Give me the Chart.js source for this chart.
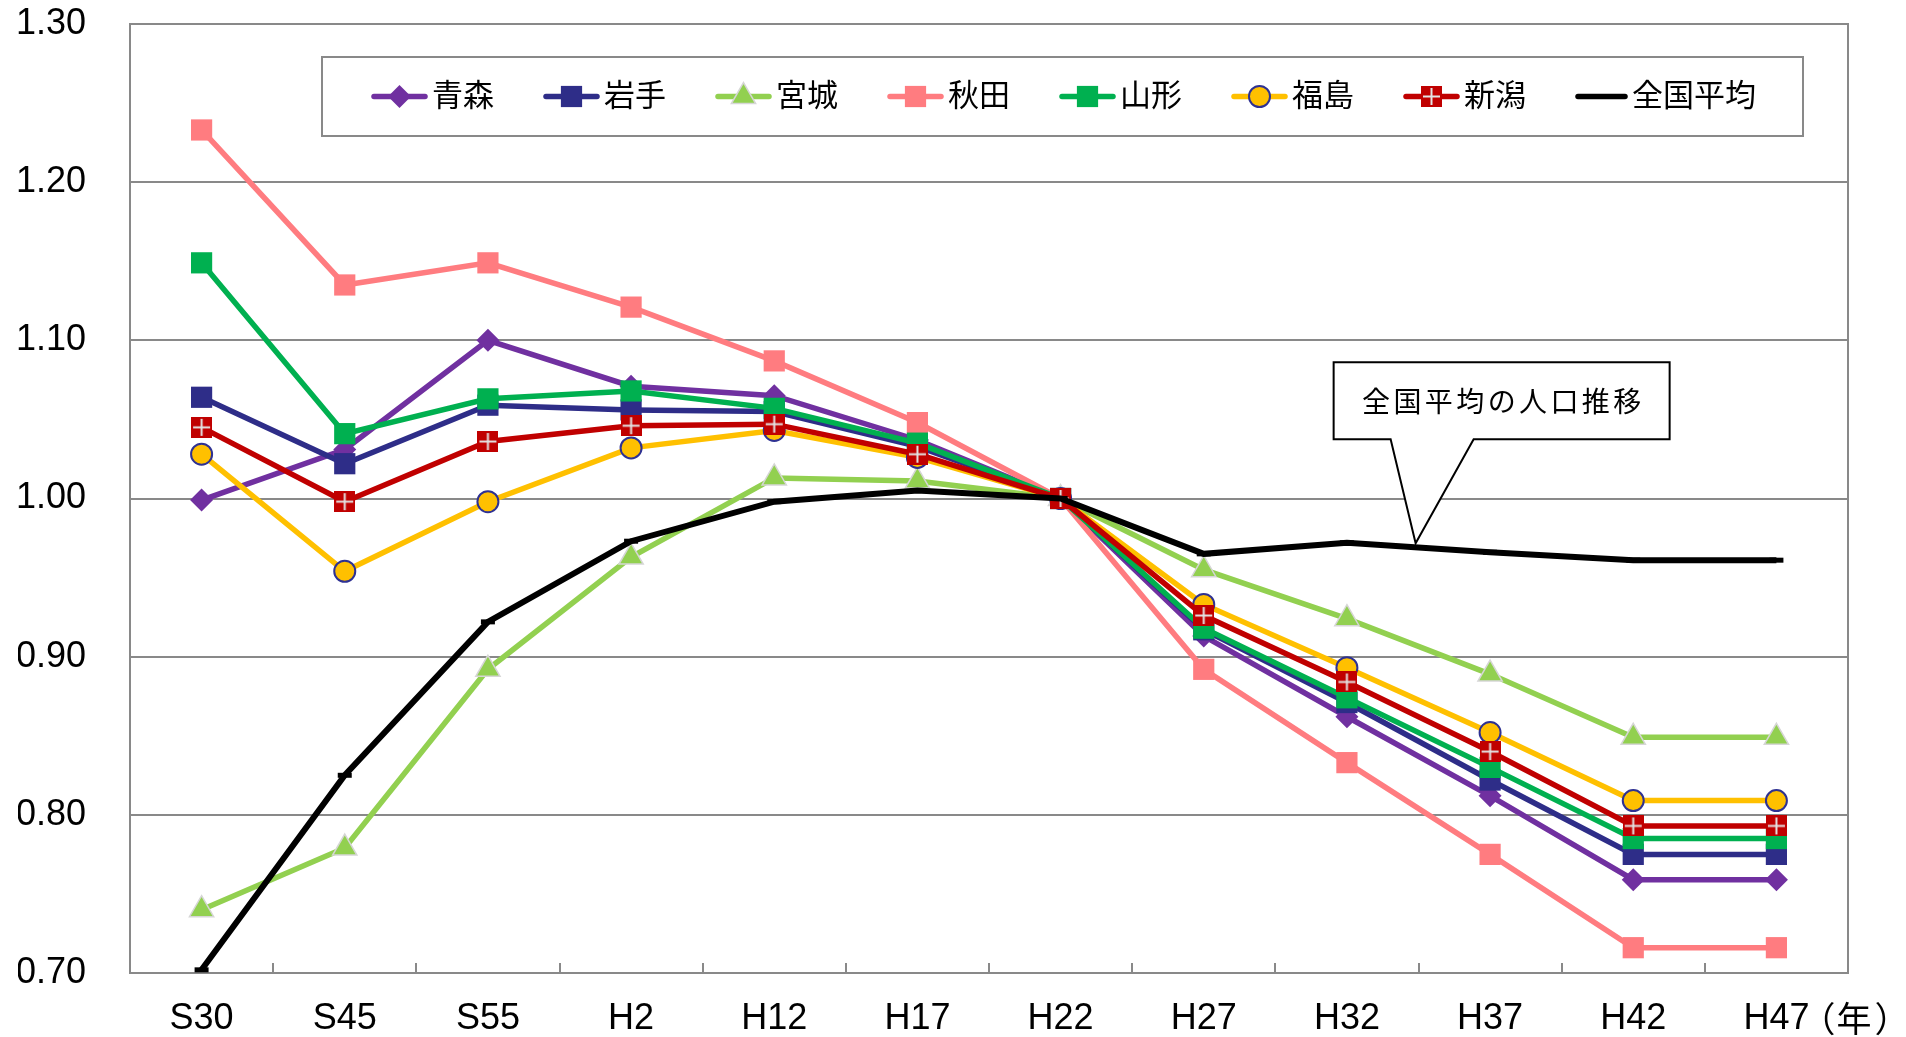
<!DOCTYPE html>
<html lang="ja">
<head>
<meta charset="utf-8">
<title>人口推移</title>
<script src="https://cdn.jsdelivr.net/npm/chart.js@4.4.1/dist/chart.umd.min.js"></script>
<style>
html,body{margin:0;padding:0;background:#fff;overflow:hidden;}
#wrap{width:1906px;height:1037px;}
canvas{display:block;}
</style>
</head>
<body>
<div id="wrap"><canvas id="c" width="1906" height="1037"></canvas></div>
<script>
// 年次（カテゴリ）
const categories = ['S30','S45','S55','H2','H12','H17','H22','H27','H32','H37','H42','H47'];

// H22 を 1.00 とした人口指数
const aomori    = [0.999,1.031,1.100,1.071,1.065,1.037,1.000,0.913,0.862,0.812,0.759,0.759];
const iwate     = [1.064,1.022,1.059,1.056,1.055,1.033,1.000,0.917,0.871,0.822,0.775,0.775];
const miyagi    = [0.740,0.779,0.892,0.963,1.013,1.011,1.000,0.955,0.924,0.889,0.849,0.849];
const akita     = [1.233,1.135,1.149,1.121,1.087,1.048,1.000,0.892,0.833,0.775,0.716,0.716];
const yamagata  = [1.149,1.041,1.063,1.068,1.057,1.035,1.000,0.918,0.874,0.830,0.785,0.785];
const fukushima = [1.028,0.954,0.998,1.032,1.043,1.026,1.000,0.933,0.893,0.852,0.809,0.809];
const niigata   = [1.045,0.998,1.036,1.046,1.047,1.028,1.000,0.926,0.884,0.840,0.793,0.793];
const national  = [0.702,0.825,0.922,0.973,0.998,1.005,1.000,0.965,0.972,0.966,0.961,0.961];

// 凡例名とY軸目盛
const seriesNames = ['青森','岩手','宮城','秋田','山形','福島','新潟','全国平均'];
const yTicks = [0.70,0.80,0.90,1.00,1.10,1.20,1.30];
const calloutText = '全国平均の人口推移';
const yearUnit = ['（','年','）'];

const seriesValues = [aomori, iwate, miyagi, akita, yamagata, fukushima, niigata, national];

const NUM_FONT = "'Liberation Sans', Arial, sans-serif";
const JP_FONT = "'Noto Sans CJK JP', 'Noto Sans CJK SC', sans-serif";
const GRID = '#898989';

// 新潟のマーカー（赤い四角に十字）
function makeCrossSquare(size){
  const cv = document.createElement('canvas');
  cv.width = size; cv.height = size;
  const g = cv.getContext('2d');
  g.fillStyle = '#C00000';
  g.fillRect(0, 0, size, size);
  g.strokeStyle = '#e4e4e4';
  g.lineWidth = 2;
  g.beginPath();
  g.moveTo(size/2, 2); g.lineTo(size/2, size-2);
  g.moveTo(2, size/2); g.lineTo(size-2, size/2);
  g.stroke();
  return cv;
}
const crossSquare = makeCrossSquare(21);

const styles = [
  {color:'#7030A0', pointStyle:'rectRot', radius:11.5, fill:'#7030A0', border:'#7030A0', bw:0},
  {color:'#2E2D88', pointStyle:'rect', radius:15, fill:'#2E2D88', border:'#2E2D88', bw:0},
  {color:'#92D050', pointStyle:'triangle', radius:14, fill:'#92D050', border:'#d6d6d6', bw:1.5},
  {color:'#FF7C80', pointStyle:'rect', radius:15, fill:'#FF7C80', border:'#FF7C80', bw:0},
  {color:'#00B050', pointStyle:'rect', radius:15, fill:'#00B050', border:'#00B050', bw:0},
  {color:'#FFC000', pointStyle:'circle', radius:10.5, fill:'#FFC000', border:'#2E3192', bw:2},
  {color:'#C00000', pointStyle:crossSquare, radius:10.5, fill:'#C00000', border:'#C00000', bw:0},
  {color:'#000000', pointStyle:'line', radius:7, fill:'#000000', border:'#000000', bw:5}
];

const datasets = seriesNames.map((name, i) => ({
  label: name,
  data: seriesValues[i],
  borderColor: styles[i].color,
  backgroundColor: styles[i].fill,
  borderWidth: i === 7 ? 6 : 5.5,
  tension: 0,
  pointStyle: styles[i].pointStyle,
  pointRadius: styles[i].radius,
  pointHoverRadius: styles[i].radius,
  pointBackgroundColor: styles[i].fill,
  pointBorderColor: styles[i].border,
  pointBorderWidth: styles[i].bw,
  order: seriesNames.length - i,
  clip: false
}));

const framePlugin = {
  id: 'frame',
  beforeDatasetsDraw(chart){
    const {ctx, chartArea: ca, scales} = chart;
    const x = scales.x;
    ctx.save();
    ctx.strokeStyle = GRID;
    ctx.lineWidth = 2;
    // 右枠
    ctx.beginPath();
    ctx.moveTo(ca.right, ca.top - 1);
    ctx.lineTo(ca.right, ca.bottom + 1);
    ctx.stroke();
    // X軸の内向き目盛（カテゴリ境界）
    ctx.beginPath();
    for (let i = 0; i < categories.length - 1; i++){
      const px = Math.round((x.getPixelForValue(i) + x.getPixelForValue(i+1)) / 2);
      ctx.moveTo(px, ca.bottom);
      ctx.lineTo(px, ca.bottom - 10);
    }
    ctx.stroke();
    ctx.restore();
  },
  afterDraw(chart){
    const {ctx, chartArea: ca, scales} = chart;
    const helpers = Chart.helpers;
    ctx.save();

    // 凡例枠
    const lg = {left: ca.left + 192, top: ca.top + 33, right: ca.left + 1673, bottom: ca.top + 112};
    ctx.fillStyle = '#ffffff';
    ctx.fillRect(lg.left, lg.top, lg.right - lg.left, lg.bottom - lg.top);
    ctx.strokeStyle = GRID;
    ctx.lineWidth = 2;
    ctx.strokeRect(lg.left, lg.top, lg.right - lg.left, lg.bottom - lg.top);

    const ly = lg.top + 39.5;
    seriesNames.forEach((name, i) => {
      const s = styles[i];
      const x0 = lg.left + 50 + 172 * i;
      const len = i === 7 ? 51 : 55;
      ctx.strokeStyle = s.color;
      ctx.lineWidth = 5.5;
      ctx.lineCap = 'round';
      ctx.beginPath();
      ctx.moveTo(x0 + 2, ly);
      ctx.lineTo(x0 + len - 2, ly);
      ctx.stroke();
      ctx.lineCap = 'butt';
      if (i !== 7){
        ctx.fillStyle = s.fill;
        ctx.strokeStyle = s.border;
        ctx.lineWidth = s.bw;
        helpers.drawPoint(ctx, {pointStyle: s.pointStyle, radius: s.radius, rotation: 0, borderWidth: s.bw}, x0 + len/2, ly);
      }
      ctx.fillStyle = '#000';
      ctx.font = '31px ' + JP_FONT;
      ctx.textBaseline = 'middle';
      ctx.textAlign = 'left';
      ctx.fillText(name, x0 + len + 5, ly - 2);
    });

    // 吹き出し（全国平均の線上を指す）
    const pts = chart.getDatasetMeta(7).data;
    const a = pts[8], b = pts[9];
    const t = 0.48;
    const tipX = a.x + (b.x - a.x) * t;
    const tipY = a.y + (b.y - a.y) * t - 4;
    const bl = tipX - 82, br = tipX + 254, bt = tipY - 181, bb = tipY - 104;
    ctx.beginPath();
    ctx.moveTo(bl, bt);
    ctx.lineTo(br, bt);
    ctx.lineTo(br, bb);
    ctx.lineTo(tipX + 58, bb);
    ctx.lineTo(tipX, tipY);
    ctx.lineTo(tipX - 25, bb);
    ctx.lineTo(bl, bb);
    ctx.closePath();
    ctx.fillStyle = '#fff';
    ctx.fill();
    ctx.strokeStyle = '#000';
    ctx.lineWidth = 2;
    ctx.lineJoin = 'miter';
    ctx.stroke();
    ctx.fillStyle = '#000';
    ctx.font = '28px ' + JP_FONT;
    ctx.textAlign = 'center';
    ctx.textBaseline = 'middle';
    const chars = Array.from(calloutText);
    const pitch = 31.4;
    const cx = (bl + br) / 2, cy = (bt + bb) / 2 + 1;
    chars.forEach((ch, k) => {
      ctx.fillText(ch, cx + (k - (chars.length - 1) / 2) * pitch, cy);
    });

    // 単位（年）：各文字の字面の左端をそろえて配置
    const xs = scales.x;
    const lastX = xs.getPixelForValue(categories.length - 1);
    ctx.font = '35px ' + JP_FONT;
    ctx.textAlign = 'left';
    ctx.textBaseline = 'middle';
    const uy = ca.bottom + 46;
    const inkLeft = [lastX + 48, lastX + 61, lastX + 99];
    yearUnit.forEach((ch, k) => {
      const m = ctx.measureText(ch);
      ctx.fillText(ch, inkLeft[k] + (m.actualBoundingBoxLeft || 0), uy);
    });

    ctx.restore();
  }
};

new Chart(document.getElementById('c'), {
  type: 'line',
  data: { labels: categories, datasets },
  options: {
    responsive: false,
    animation: false,
    devicePixelRatio: 1,
    layout: { padding: { left: 18, right: 58, top: 24, bottom: 0 } },
    plugins: {
      legend: { display: false },
      title: { display: false },
      tooltip: { enabled: false }
    },
    scales: {
      x: {
        type: 'category',
        offset: true,
        grid: { display: false, drawTicks: false },
        border: { display: true, color: GRID, width: 2 },
        ticks: {
          color: '#000',
          font: { family: NUM_FONT, size: 36, lineHeight: 1 },
          padding: 28,
          maxRotation: 0,
          autoSkip: false
        },
        afterFit(scale){
          scale.height = 64;
          scale.paddingLeft = 0;
          scale.paddingRight = 0;
        }
      },
      y: {
        min: 0.7,
        max: 1.3,
        afterBuildTicks(scale){ scale.ticks = yTicks.map(v => ({value: v})); },
        grid: { color: GRID, lineWidth: 2, drawTicks: false },
        border: { display: true, color: GRID, width: 2 },
        ticks: {
          color: '#000',
          font: { family: NUM_FONT, size: 36, lineHeight: 1.2 },
          padding: 44,
          callback: v => Number(v).toFixed(2)
        },
        afterFit(scale){
          scale.width = 112;
          scale.paddingTop = 0;
          scale.paddingBottom = 0;
        }
      }
    }
  },
  plugins: [framePlugin]
});
</script>
</body>
</html>
